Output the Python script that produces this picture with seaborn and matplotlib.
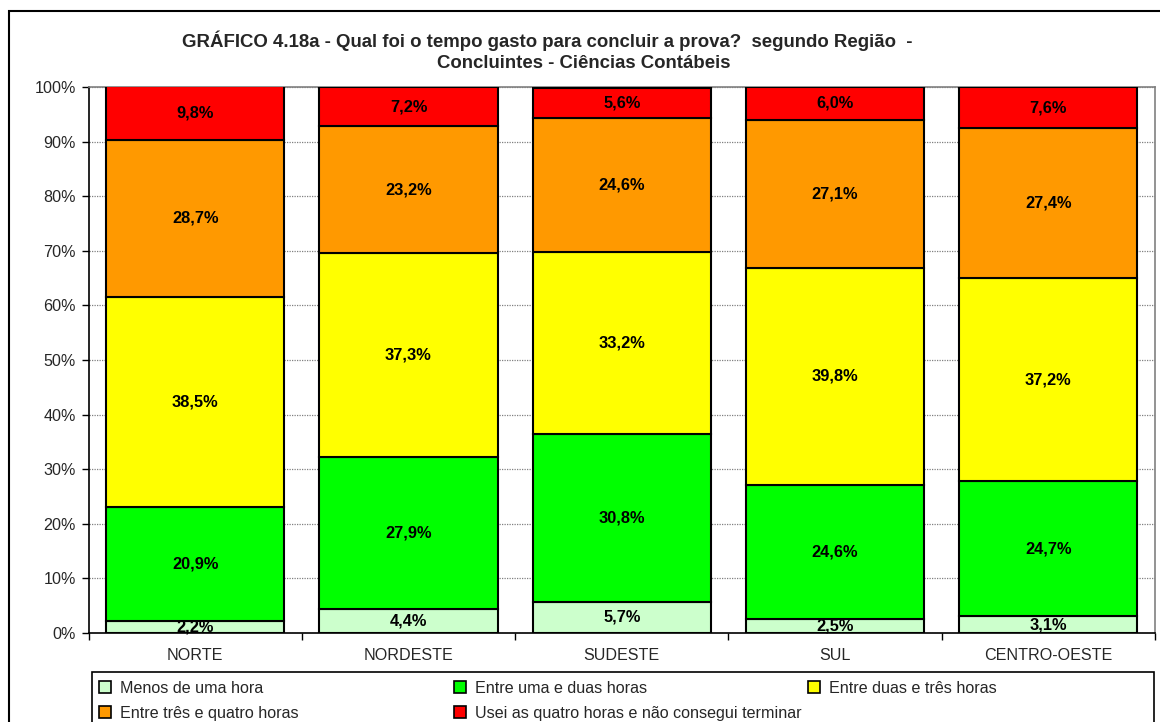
import matplotlib
matplotlib.use("Agg")
import matplotlib.pyplot as plt
from matplotlib.patches import Rectangle, Patch
import seaborn as sns
import pandas as pd
import numpy as np

regions = ["NORTE", "NORDESTE", "SUDESTE", "SUL", "CENTRO-OESTE"]
series_names = [
    "Menos de uma hora",
    "Entre uma e duas horas",
    "Entre duas e três horas",
    "Entre três e quatro horas",
    "Usei as quatro horas e não consegui terminar",
]
menos_uma = [2.2, 4.4, 5.7, 2.5, 3.1]
uma_duas = [20.9, 27.9, 30.8, 24.6, 24.7]
duas_tres = [38.5, 37.3, 33.2, 39.8, 37.2]
tres_quatro = [28.7, 23.2, 24.6, 27.1, 27.4]
quatro_nao = [9.8, 7.2, 5.6, 6.0, 7.6]
colors = ["#CCFFCC", "#00FF00", "#FFFF00", "#FF9900", "#FF0000"]
title_line1 = "GRÁFICO 4.18a - Qual foi o tempo gasto para concluir a prova?  segundo Região  -"
title_line2 = "Concluintes - Ciências Contábeis"

series = [menos_uma, uma_duas, duas_tres, tres_quatro, quatro_nao]

sns.set_theme(style="white")
plt.rcParams["font.family"] = ["Liberation Sans", "DejaVu Sans"]

W, H = 1160, 722
fig = plt.figure(figsize=(W / 100, H / 100), dpi=100)
fig.patch.set_facecolor("white")

# outer chart border (right and bottom edges fall outside the image)
top_b = 1 - 10.5 / H
fig.add_artist(Rectangle((8.5 / W, -0.1), 1.2, top_b + 0.1, transform=fig.transFigure,
                         fill=False, edgecolor="black", linewidth=1.5, zorder=0))

ax = fig.add_axes([88.5 / W, 1 - 633 / H, (1155 - 88.5) / W, (633 - 87) / H])
ax.set_facecolor("white")

bottom = np.zeros(len(regions))
for name, vals, col in zip(series_names, series, colors):
    df = pd.DataFrame({"region": regions, "pct": vals})
    sns.barplot(data=df, x="region", y="pct", order=regions, color=col, saturation=1,
                width=0.835, bottom=bottom.copy(), edgecolor="black", linewidth=1.5,
                errorbar=None, ax=ax, zorder=3)
    cont = ax.containers[-1]
    labels = [f"{v:.1f}%".replace(".", ",") for v in vals]
    ax.bar_label(cont, labels=labels, label_type="center", fontweight="bold",
                 fontsize=11.8, color="black", zorder=4)
    bottom += np.array(vals)

ax.set_xlim(-0.5, len(regions) - 0.5)
ax.set_ylim(0, 100)
ax.set_yticks(np.arange(0, 101, 10))
ax.set_yticklabels([f"{t}%" for t in range(0, 101, 10)], fontsize=11.6)
ax.yaxis.grid(True, linestyle=(0, (1, 1)), color="#808080", linewidth=0.9)
ax.set_axisbelow(True)
ax.set_xlabel("")
ax.set_ylabel("")
ax.tick_params(axis="x", which="major", length=0, pad=11, labelsize=11.6)
ax.set_xticks(np.arange(-0.5, len(regions), 1), minor=True)
ax.tick_params(axis="x", which="minor", length=5, width=1, color="black", direction="out", bottom=True)
ax.tick_params(axis="y", length=5, width=1, color="black", direction="out", left=True, pad=4)
for s in ["left", "bottom"]:
    ax.spines[s].set_color("black")
    ax.spines[s].set_linewidth(1.2)
for s in ["top", "right"]:
    ax.spines[s].set_color("#808080")
    ax.spines[s].set_linewidth(1.2)

fig.text(547 / W, 1 - 41 / H, title_line1, ha="center", va="center", fontsize=13.4, fontweight="bold")
fig.text(584 / W, 1 - 63.5 / H, title_line2, ha="center", va="center", fontsize=13.4, fontweight="bold")

# legend: frame + three columns laid out row-wise like the original
fig.add_artist(Rectangle((92 / W, -0.1), (1154 - 92) / W, (1 - 672 / H) + 0.1,
                         transform=fig.transFigure, fill=False, edgecolor="black",
                         linewidth=1.2, zorder=1))
handles = [Patch(facecolor=c, edgecolor="black", linewidth=1.2) for c in colors]
columns = [[0, 3], [1, 4], [2]]
col_x = [99, 454, 808]
for idxs, cx in zip(columns, col_x):
    fig.legend([handles[i] for i in idxs], [series_names[i] for i in idxs], ncol=1,
               loc="upper left", bbox_to_anchor=(cx / W, 1 - 681 / H),
               frameon=False, fontsize=11.6,
               handlelength=0.75, handleheight=0.75, handletextpad=0.55,
               borderpad=0, labelspacing=0.62, borderaxespad=0)

fig.savefig("out.png", dpi=100, facecolor="white")
